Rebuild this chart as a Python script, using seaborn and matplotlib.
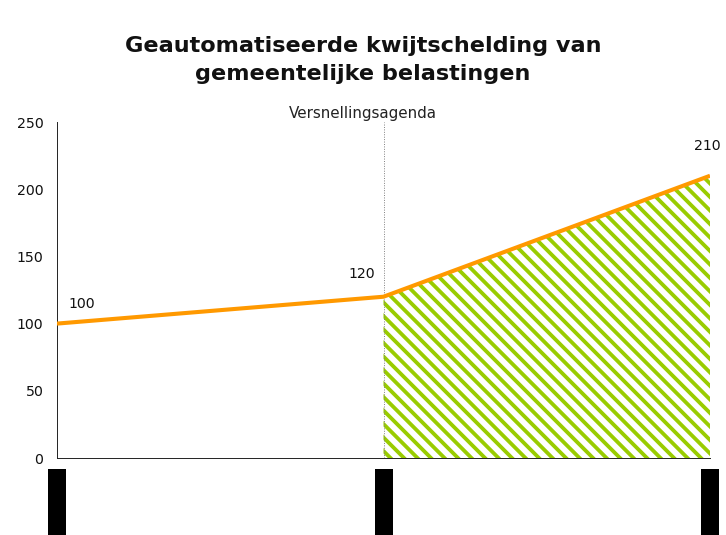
import matplotlib
matplotlib.use("Agg")
import matplotlib.pyplot as plt
import matplotlib.transforms as mtransforms
from matplotlib.patches import Rectangle
import seaborn as sns
import pandas as pd

# ---- data ----
positions = [0, 1, 2]
values = [100, 120, 210]
point_labels = ["100", "120", "210"]
y_ticks = [0, 50, 100, 150, 200, 250]
marker_label = "Versnellingsagenda"
title_text = "Geautomatiseerde kwijtschelding van\ngemeentelijke belastingen"

DPI = 81
S = 70 / DPI  # keep sizes in pixel terms as designed for 70 dpi

sns.set_theme(style="white")
plt.rcParams["font.family"] = ["DejaVu Sans"]
plt.rcParams["hatch.linewidth"] = 3.4

fig = plt.figure(figsize=(726 / DPI, 535 / DPI), dpi=DPI)
ax = fig.add_axes([57 / 726, 77 / 535, 653 / 726, 336 / 535])

df = pd.DataFrame({"x": positions, "y": values})

# hatched area after the marker
sub = df[df["x"] >= 1]
ax.fill_between(sub["x"], 0, sub["y"], facecolor="none", edgecolor="#99CC00",
                hatch="\\\\", linewidth=0, zorder=1)

# vertical dotted line
ax.axvline(1, color="#808080", linestyle=(0, (1, 1.5)), linewidth=1.0 * S, zorder=2)

sns.lineplot(data=df, x="x", y="y", ax=ax, color="#FF9900", linewidth=4.2 * S,
             zorder=3, solid_capstyle="butt")

# data labels
offsets = [(25, 20), (-22, 23), (-3, 30)]
for xp, yp, lab, off in zip(positions, values, point_labels, offsets):
    ax.annotate(lab, (xp, yp), xytext=off, textcoords="offset pixels",
                ha="center", va="center", fontsize=14.5 * S, color="#111111")

ax.annotate(marker_label, (1, 250), xytext=(-21, 9), textcoords="offset pixels",
            ha="center", va="center", fontsize=15.5 * S, color="#222222")

ax.set_xlim(0, 2)
ax.set_ylim(0, 250)
ax.set_yticks(y_ticks)
ax.set_yticklabels([str(t) for t in y_ticks], fontsize=14.5 * S)
ax.set_xticks(positions)
ax.set_xticklabels([])
ax.set_xlabel("")
ax.set_ylabel("")
ax.tick_params(axis="y", direction="out", length=5 * S, width=1 * S, pad=9 * S,
               colors="#222222")
ax.tick_params(axis="x", direction="out", length=5 * S, width=1 * S, colors="#222222")
ax.tick_params(axis="y", labelcolor="#111111")
for s in ["top", "right"]:
    ax.spines[s].set_visible(False)
for s in ["left", "bottom"]:
    ax.spines[s].set_color("#222222")
    ax.spines[s].set_linewidth(1 * S)

# black boxes below the x ticks (obscured category labels)
trans = mtransforms.blended_transform_factory(ax.transData, fig.transFigure)
bw = 18 / 326.5
for xp in positions:
    ax.add_patch(Rectangle((xp - bw / 2, 0), bw, 66 / 535, transform=trans,
                           facecolor="black", edgecolor="none", clip_on=False))

fig.text(0.5, 1 - 60 / 535, title_text, ha="center", va="center",
         fontsize=23 * S, fontweight="bold", color="#111111", linespacing=1.5)

fig.savefig("out.png", dpi=DPI)
